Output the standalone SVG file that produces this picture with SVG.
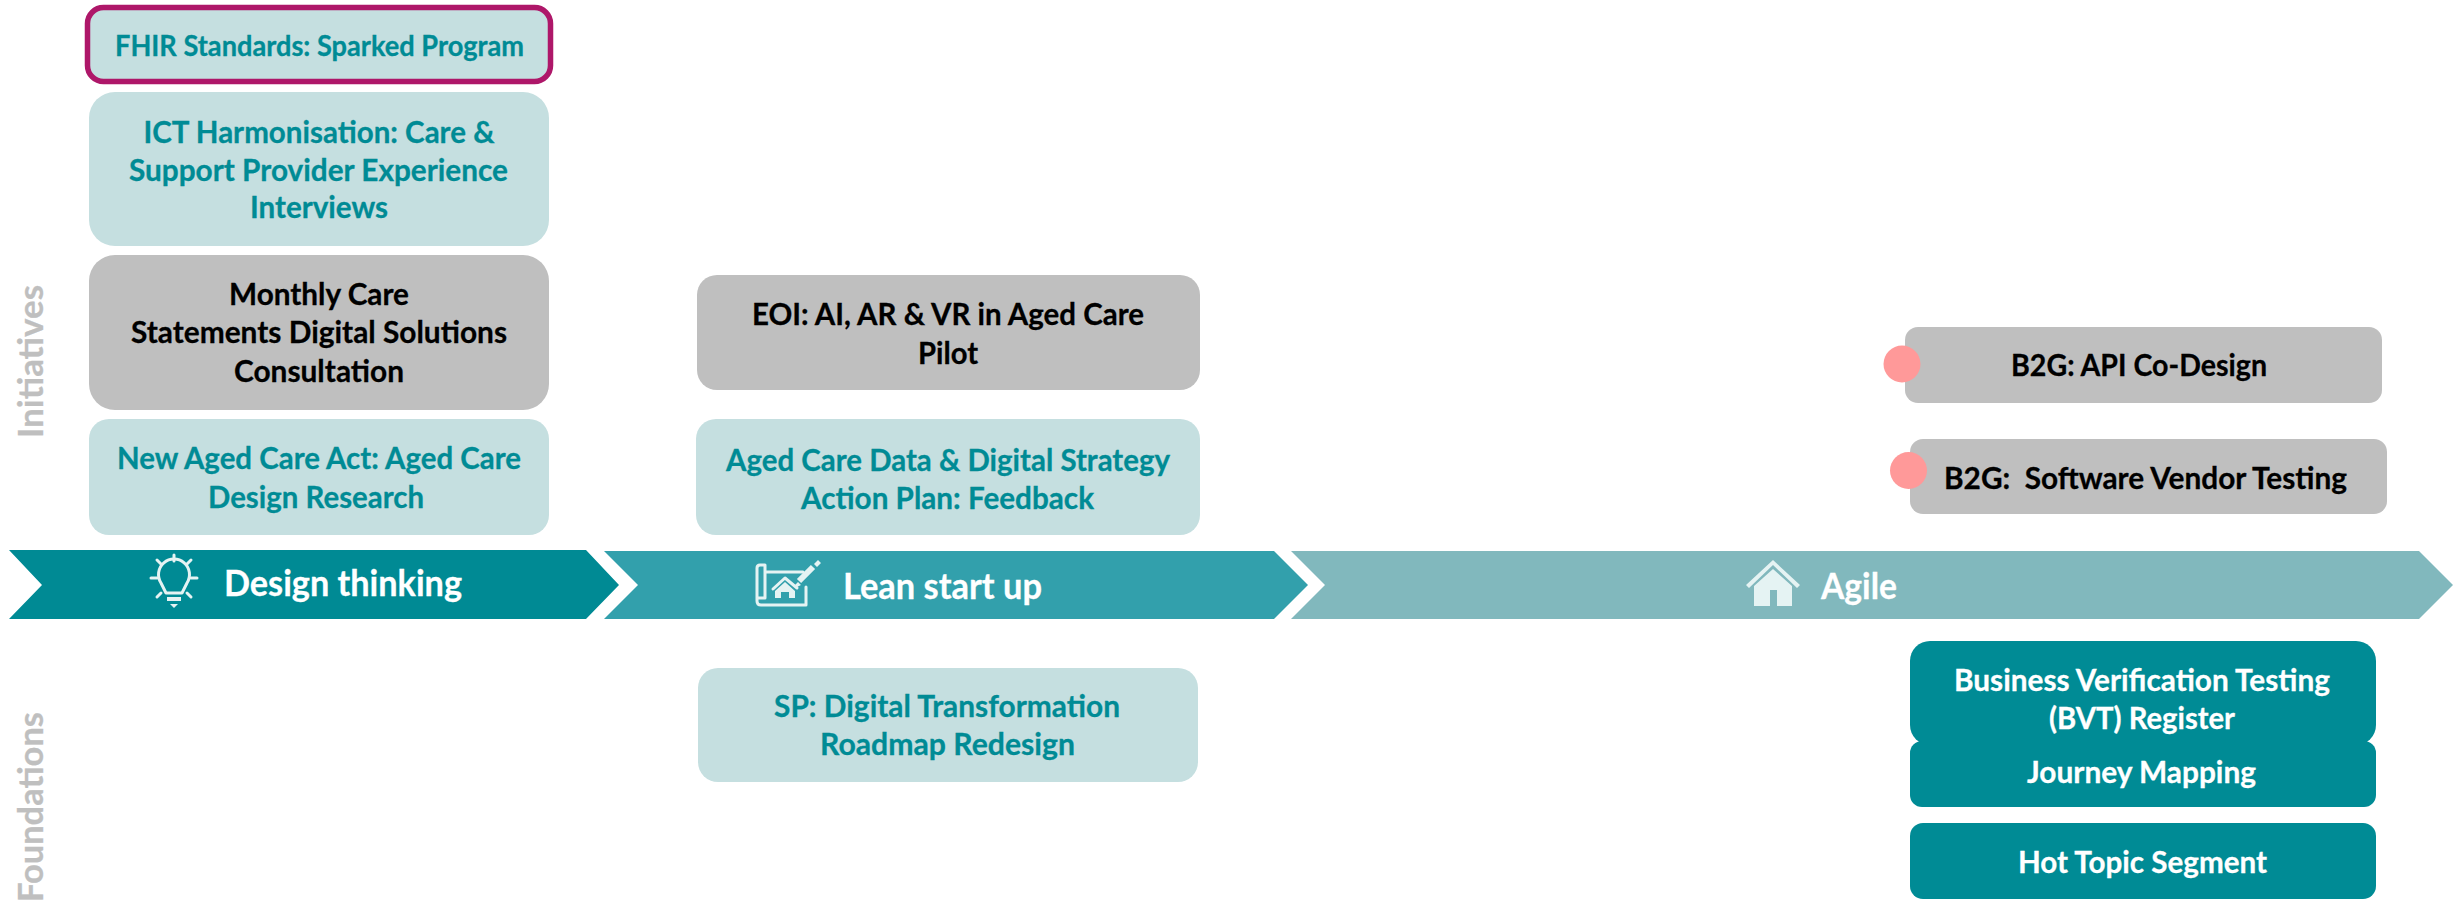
<svg xmlns="http://www.w3.org/2000/svg" width="2453" height="902" viewBox="0 0 2453 902">
<style>
text{font-family:"Lato","Carlito","Liberation Sans",sans-serif;font-weight:700;font-size:31px;stroke-width:.3px}
.teal{fill:#008b95;stroke:#008b95}.blk{fill:#000;stroke:#000}.wht{fill:#fff;stroke:#fff}
.lt{fill:#c5dfe0}.gry{fill:#bfbfbf}.dk{fill:#008b95}.dot{fill:#ff9999}
.axis{fill:#bfbfbf;stroke:#bfbfbf;font-size:35px}
.phase{fill:#fff;stroke:#fff;font-size:37px}
.small{font-size:28px}
.ico{fill:#e5f3f3}.icol{fill:none;stroke:#e5f3f3;stroke-width:3;stroke-linecap:round;stroke-linejoin:round}
.pen{fill:none;stroke:#e5f3f3;stroke-width:6;stroke-linecap:butt}
</style>
<g id="connectors"/>
<g id="axis-initiatives"><text class="axis" transform="translate(43,438) rotate(-90)" textLength="153" lengthAdjust="spacingAndGlyphs">Initiatives</text></g>
<g id="axis-foundations"><text class="axis" transform="translate(43,902) rotate(-90)" textLength="190" lengthAdjust="spacingAndGlyphs">Foundations</text></g>

<g id="phase-design">
<polygon points="9,550 586,550 619,585 586,619 9,619 42,585" fill="#008a94"/>
<g class="icol"><path d="M166,593 L161,583 A15.500,15.500 0 1 1 187,583 L182,593 Z"/><path d="M174,555V561M157,560L161,564M191,560L187,564M151,578H157M191,578H197M157,597L161,593M191,597L187,593"/></g>
<path class="ico" d="M167,597H181V601H167ZM170,604H178L174,608Z"/>
<text class="phase" x="224" y="596" textLength="238" lengthAdjust="spacingAndGlyphs">Design thinking</text>
</g>
<g id="phase-lean">
<polygon points="604,551 1274,551 1308,585 1274,619 604,619 638,585" fill="#32a0ac"/>
<g class="icol"><path d="M765,572H803M806,587V605H761Q757,605 757,601V568Q757,565 760,565H765V598H758"/><path d="M773,589L785,578L797,588"/></g>
<path class="ico" d="M785,582L795,591V598H789V592H781V598H775V591Z"/>
<path class="pen" d="M799,581L813,567"/><path class="ico" d="M814,564L818,560L821,563L817,567ZM795,585L798,582L801,585L795,588Z"/>
<text class="phase" x="843" y="599" textLength="199" lengthAdjust="spacingAndGlyphs">Lean start up</text>
</g>
<g id="phase-agile">
<polygon points="1291,551 2419,551 2453,585 2419,619 1291,619 1325,585" fill="#81b8bd"/>
<path class="ico" d="M1773,560L1800,585L1797,588L1773,565L1749,588L1746,585Z"/>
<path class="ico" d="M1773,569L1792,586V606H1777V590H1770V606H1754V586Z"/>
<text class="phase" x="1821" y="599" textLength="76" lengthAdjust="spacingAndGlyphs">Agile</text>
</g>

<g id="node-fhir"><rect x="87.500" y="7.500" width="463" height="74" rx="16" class="lt" stroke="#ae1769" stroke-width="5.500"/>
<text class="teal small" x="115" y="56" textLength="409" lengthAdjust="spacingAndGlyphs">FHIR Standards: Sparked Program</text></g>
<g id="node-ict"><rect x="89" y="92" width="460" height="154" rx="26" class="lt"/>
<text class="teal" x="143.500" y="143" textLength="351" lengthAdjust="spacingAndGlyphs">ICT Harmonisation: Care &amp;</text>
<text class="teal" x="129" y="181" textLength="379" lengthAdjust="spacingAndGlyphs">Support Provider Experience</text>
<text class="teal" x="250" y="218" textLength="138" lengthAdjust="spacingAndGlyphs">Interviews</text></g>
<g id="node-monthly"><rect x="89" y="255" width="460" height="155" rx="26" class="gry"/>
<text class="blk" x="229" y="305" textLength="180" lengthAdjust="spacingAndGlyphs">Monthly Care</text>
<text class="blk" x="131" y="343" textLength="376" lengthAdjust="spacingAndGlyphs">Statements Digital Solutions</text>
<text class="blk" x="234" y="382" textLength="170" lengthAdjust="spacingAndGlyphs">Consultation</text></g>
<g id="node-act"><rect x="89" y="419" width="460" height="116" rx="20" class="lt"/>
<text class="teal" x="117" y="469" textLength="404" lengthAdjust="spacingAndGlyphs">New Aged Care Act: Aged Care</text>
<text class="teal" x="208" y="508" textLength="216" lengthAdjust="spacingAndGlyphs">Design Research</text></g>
<g id="node-eoi"><rect x="697" y="275" width="503" height="115" rx="20" class="gry"/>
<text class="blk" x="752" y="325" textLength="392" lengthAdjust="spacingAndGlyphs">EOI: AI, AR &amp; VR in Aged Care</text>
<text class="blk" x="918" y="364" textLength="60" lengthAdjust="spacingAndGlyphs">Pilot</text></g>
<g id="node-strategy"><rect x="696" y="419" width="504" height="116" rx="20" class="lt"/>
<text class="teal" x="726" y="471" textLength="444" lengthAdjust="spacingAndGlyphs">Aged Care Data &amp; Digital Strategy</text>
<text class="teal" x="801" y="509" textLength="293" lengthAdjust="spacingAndGlyphs">Action Plan: Feedback</text></g>
<g id="node-api"><rect x="1905" y="327" width="477" height="76" rx="13" class="gry"/><ellipse cx="1902" cy="364" rx="18.500" ry="18.500" class="dot"/>
<text class="blk" x="2011" y="376" textLength="256" lengthAdjust="spacingAndGlyphs">B2G: API Co-Design</text></g>
<g id="node-vendor"><rect x="1910" y="439" width="477" height="75" rx="13" class="gry"/><ellipse cx="1908.500" cy="470.500" rx="18.500" ry="18.500" class="dot"/>
<text class="blk" x="1944" y="489" textLength="403" lengthAdjust="spacingAndGlyphs" xml:space="preserve">B2G:  Software Vendor Testing</text></g>
<g id="node-sp"><rect x="698" y="668" width="500" height="114" rx="20" class="lt"/>
<text class="teal" x="774" y="717" textLength="346" lengthAdjust="spacingAndGlyphs">SP: Digital Transformation</text>
<text class="teal" x="820" y="755" textLength="255" lengthAdjust="spacingAndGlyphs">Roadmap Redesign</text></g>
<g id="node-bvt"><rect x="1910" y="641" width="466" height="104" rx="20" class="dk"/>
<text class="wht" x="1954" y="691" textLength="376" lengthAdjust="spacingAndGlyphs">Business Verification Testing</text>
<text class="wht" x="2049" y="729" textLength="186" lengthAdjust="spacingAndGlyphs">(BVT) Register</text></g>
<g id="node-journey"><rect x="1910" y="741" width="466" height="66" rx="12" class="dk"/>
<text class="wht" x="2027" y="783" textLength="229" lengthAdjust="spacingAndGlyphs">Journey Mapping</text></g>
<g id="node-hot"><rect x="1910" y="823" width="466" height="76" rx="13" class="dk"/>
<text class="wht" x="2018" y="873" textLength="249" lengthAdjust="spacingAndGlyphs">Hot Topic Segment</text></g>
</svg>
